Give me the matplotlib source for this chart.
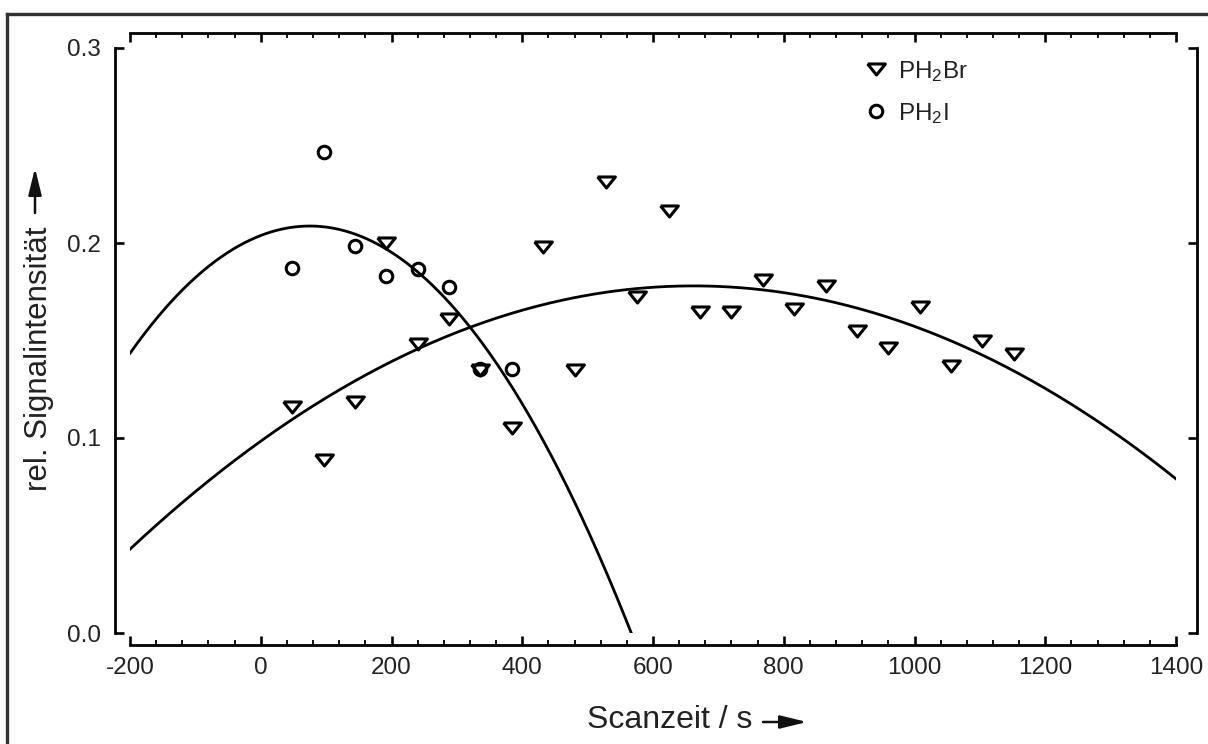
import numpy as np
import matplotlib
matplotlib.use("Agg")
import matplotlib.pyplot as plt
from matplotlib.lines import Line2D

plt.rcParams['font.family'] = ['Liberation Sans', 'DejaVu Sans']
plt.rcParams['mathtext.fontset'] = 'custom'
plt.rcParams['mathtext.rm'] = 'Liberation Sans'
plt.rcParams['mathtext.it'] = 'Liberation Sans:italic'

# ---- data ----
br_time = [48, 96, 144, 192, 240, 288, 336, 384, 432, 480, 528, 576,
           624, 672, 720, 768, 816, 864, 912, 960, 1008, 1056, 1104, 1152]
br_signal = [0.1157, 0.0887, 0.1186, 0.1998, 0.1482, 0.1610, 0.1349, 0.1050,
             0.1981, 0.1349, 0.2315, 0.1721, 0.2164, 0.1648, 0.1648, 0.1810,
             0.1660, 0.1781, 0.1549, 0.1460, 0.1670, 0.1369, 0.1497, 0.1429]

i_time = [48, 96, 144, 192, 240, 288, 336, 384]
i_signal = [0.1873, 0.2465, 0.1985, 0.1832, 0.1865, 0.1773, 0.1352, 0.1352]

# quadratic fit curves, vertex form: y = a*(x-h)^2 + k
br_fit = dict(a=-1.817e-7, h=662.0, k=0.178)
i_fit = dict(a=-8.63e-7, h=75.0, k=0.2087)

xlim = (-200, 1400)
ylim = (0.0, 0.3)
xticks = [-200, 0, 200, 400, 600, 800, 1000, 1200, 1400]
yticks = [0.0, 0.1, 0.2, 0.3]
labels = ["PH$_2$Br", "PH$_2$I"]

W, H = 1208, 744
fig = plt.figure(figsize=(W / 100, H / 100), dpi=100)
ax = fig.add_axes([130 / W, 1 - 633 / H, 1046 / W, 585 / H])

tri = [(-1, 0.62), (1, 0.62), (0, -0.62), (-1, 0.62)]

def curve(p, x0, x1):
    xs = np.linspace(x0, x1, 400)
    return xs, p['a'] * (xs - p['h']) ** 2 + p['k']

xb, yb = curve(br_fit, xlim[0], xlim[1])
ax.plot(xb, yb, color='black', lw=2.0, zorder=2)
i_end = i_fit['h'] + np.sqrt(i_fit['k'] / -i_fit['a'])
xi, yi = curve(i_fit, xlim[0], i_end)
ax.plot(xi, yi, color='black', lw=2.0, zorder=2)

ax.plot(br_time, br_signal, linestyle='none', marker=tri, ms=12.8,
        mfc='none', mec='black', mew=2.2, label=labels[0], zorder=3)
ax.plot(i_time, i_signal, linestyle='none', marker='o', ms=9.0,
        mfc='none', mec='black', mew=2.2, label=labels[1], zorder=3)

ax.set_xlim(*xlim)
ax.set_ylim(*ylim)
ax.set_xticks(xticks)
ax.set_xticks(np.arange(-200, 1401, 40), minor=True)
ax.set_yticks(yticks)
ax.set_xticklabels([str(v) for v in xticks])
ax.set_yticklabels([f"{v:.1f}" for v in yticks])

ax.spines['left'].set_position(('outward', 15 * 0.72))
ax.spines['right'].set_position(('outward', 20.7 * 0.72))
ax.spines['top'].set_position(('outward', 15 * 0.72))
ax.spines['bottom'].set_position(('outward', 12 * 0.72))
for s in ax.spines.values():
    s.set_linewidth(2.0)
    s.set_capstyle('projecting')

ax.tick_params(which='major', direction='in', length=6.5, width=1.9,
               top=True, right=True, labelsize=17.5, pad=10, colors='black',
               labelcolor='#222222')
ax.tick_params(which='minor', direction='in', length=3.3, width=1.3,
               top=True, right=False, left=False)
ax.tick_params(axis='x', pad=9)

ax.legend(loc='upper left', bbox_to_anchor=(863.5 / W, 1 - 59 / H),
          bbox_transform=fig.transFigure, frameon=False, fontsize=17.5,
          handlelength=1.0, handletextpad=0.42, borderpad=0, borderaxespad=0,
          labelspacing=0.7, numpoints=1, labelcolor='#222222')

# axis titles with arrows
fig.text(587 / W, 1 - 728 / H, "Scanzeit / s", fontsize=23, ha='left',
         va='baseline', color='#222222')
fig.text(47 / W, 1 - 359 / H, "rel. Signalintensität", fontsize=22.5,
         rotation=90, rotation_mode='anchor', ha='center', va='baseline',
         color='#222222')
arrow_kw = dict(arrowstyle='-|>,head_length=0.9,head_width=0.22', lw=1.8,
                color='#111111', mutation_scale=18, shrinkA=0, shrinkB=0)
ax.annotate('', xy=(807, H - 722), xytext=(763, H - 722),
            xycoords='figure pixels', textcoords='figure pixels',
            arrowprops=arrow_kw, annotation_clip=False)
ax.annotate('', xy=(35, H - 168), xytext=(35, H - 213),
            xycoords='figure pixels', textcoords='figure pixels',
            arrowprops=arrow_kw, annotation_clip=False)

# outer frame (left and top edges)
fig.add_artist(Line2D([7 / W, 7 / W], [-0.05, 1 - 14 / H], color='#333333',
                      lw=2.4, transform=fig.transFigure, solid_capstyle='projecting'))
fig.add_artist(Line2D([7 / W, 1.05], [1 - 14 / H, 1 - 14 / H], color='#333333',
                      lw=2.4, transform=fig.transFigure, solid_capstyle='projecting'))

fig.savefig("out.png", dpi=100)
